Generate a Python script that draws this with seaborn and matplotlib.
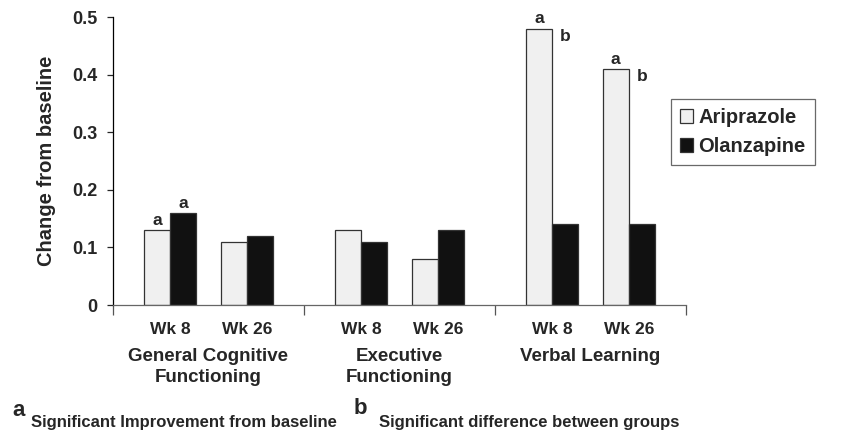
import numpy as np
import pandas as pd
import matplotlib
matplotlib.use("Agg")
import matplotlib.pyplot as plt
import seaborn as sns

# data
domains = ["General Cognitive\nFunctioning", "Executive\nFunctioning", "Verbal Learning"]
weeks = ["Wk 8", "Wk 26"]
drugs = ["Ariprazole", "Olanzapine"]
ariprazole = [0.13, 0.11, 0.13, 0.08, 0.48, 0.41]
olanzapine = [0.16, 0.12, 0.11, 0.13, 0.14, 0.14]
# significance markers: a = improvement from baseline, b = between groups
sig_a_ari = [True, False, False, False, True, True]
sig_a_ola = [True, False, False, False, False, False]
sig_b = [False, False, False, False, True, True]

# layout: two time points inside each domain slot
positions = np.repeat(np.arange(len(domains)), len(weeks)) + np.tile([0.3, 0.7], len(domains))
df = pd.DataFrame({
    "pos": np.tile(positions, 2),
    "drug": np.repeat(drugs, len(positions)),
    "value": ariprazole + olanzapine,
})

sns.set_style("white")
plt.rcParams["font.family"] = ["Liberation Sans", "DejaVu Sans"]
plt.rcParams["font.weight"] = "bold"

fig = plt.figure(figsize=(8.43, 4.33), dpi=100)
ax = fig.add_axes([113 / 843, 1 - 305 / 433, 573 / 843, 288 / 433])

sns.barplot(data=df, x="pos", y="value", hue="drug", hue_order=drugs,
            native_scale=True, width=0.68, errorbar=None,
            palette=["#f0f0f0", "#111111"], edgecolor="#333333", linewidth=0.9,
            saturation=1, ax=ax)

ax.set_xlim(0, 3)
ax.set_ylim(0, 0.5)
ax.set_yticks([0, 0.1, 0.2, 0.3, 0.4, 0.5])
ax.set_yticklabels(["0", "0.1", "0.2", "0.3", "0.4", "0.5"], fontsize=13, fontweight="bold")
ax.set_xticks([0, 1, 2, 3])
ax.set_xticklabels([])
ax.set_xticks(positions, minor=True)
ax.set_xticklabels(weeks * len(domains), minor=True, fontsize=12.5, fontweight="bold")
ax.tick_params(axis="x", which="major", direction="out", length=7, width=0.9, color="#555555", bottom=True)
ax.tick_params(axis="x", which="minor", length=0, pad=12)
ax.tick_params(axis="y", direction="out", length=4, width=0.9, pad=7, left=True)
ax.set_xlabel("")
ax.set_ylabel("Change from baseline", fontsize=14.5, fontweight="bold", labelpad=12)

for side in ["top", "right"]:
    ax.spines[side].set_visible(False)
ax.spines["left"].set_color("black")
ax.spines["bottom"].set_color("#666666")
ax.spines["left"].set_linewidth(0.9)
ax.spines["bottom"].set_linewidth(0.9)

# domain names under the week labels
for i, name in enumerate(domains):
    ax.text(i + 0.5, -0.148, name, ha="center", va="top", fontsize=13.5,
            fontweight="bold", linespacing=1.3,
            transform=ax.get_xaxis_transform())

# significance letters
ari_bars, ola_bars = ax.containers[0], ax.containers[1]
for i in range(len(positions)):
    ab, ob = ari_bars[i], ola_bars[i]
    if sig_a_ari[i]:
        ax.text(ab.get_x() + ab.get_width() / 2, ariprazole[i] + 0.004, "a",
                ha="center", va="bottom", fontsize=12.5, fontweight="bold")
    if sig_a_ola[i]:
        ax.text(ob.get_x() + ob.get_width() / 2, olanzapine[i] + 0.004, "a",
                ha="center", va="bottom", fontsize=12.5, fontweight="bold")
    if sig_b[i]:
        ax.text(ob.get_x() + ob.get_width() / 2, ariprazole[i], "b",
                ha="center", va="top", fontsize=12.5, fontweight="bold")

sns.move_legend(ax, loc="upper left", bbox_to_anchor=(0.974, 0.715), title=None,
                frameon=True, fancybox=False, edgecolor="#444444",
                prop={"size": 14.5, "weight": "bold"}, handlelength=0.65,
                handleheight=0.65, handletextpad=0.25, labelspacing=0.5,
                borderpad=0.45, borderaxespad=0)
ax.get_legend().get_frame().set_linewidth(0.9)

# footnote
fig.text(12 / 843, 1 - 410 / 433, "a", fontsize=16, fontweight="bold", va="center")
fig.text(31 / 843, 1 - 422 / 433, "Significant Improvement from baseline",
         fontsize=12, fontweight="bold", va="center")
fig.text(354 / 843, 1 - 408 / 433, "b", fontsize=16, fontweight="bold", va="center")
fig.text(379 / 843, 1 - 422 / 433, "Significant difference between groups",
         fontsize=12, fontweight="bold", va="center")

fig.savefig("out.png", dpi=100)
